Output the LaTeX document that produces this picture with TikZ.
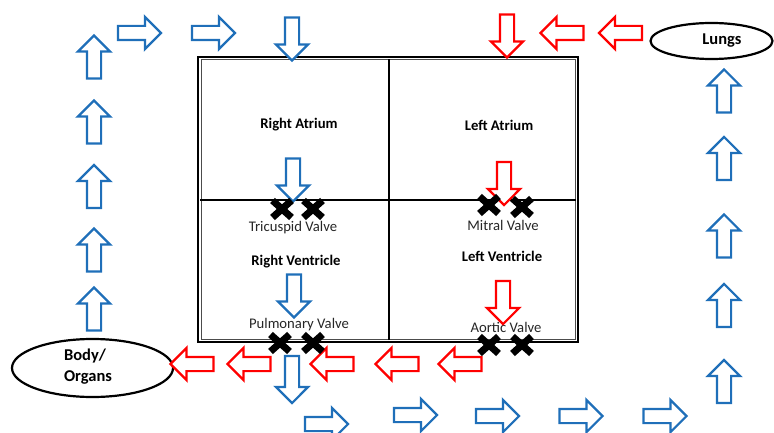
\documentclass[tikz,border=0pt]{standalone}
\usepackage{fontspec}
\setmainfont{Carlito}
\usetikzlibrary{shapes.arrows,shapes.geometric}
\definecolor{flowblue}{HTML}{1F6FB9}
\definecolor{flowred}{HTML}{FF0000}
\tikzset{
  barrow/.style={single arrow, draw=#1, fill=white, line width=2.2pt,
    minimum height=43pt, inner xsep=0pt, inner ysep=6pt,
    single arrow head extend=9pt, single arrow tip angle=90},
  bluearrow/.style={barrow=flowblue},
  redarrow/.style={barrow=flowred},
  chamber/.style={font=\fontsize{14.7}{17}\selectfont\bfseries},
  organtext/.style={font=\fontsize{16.5}{21}\selectfont\bfseries},
  valve/.style={font=\fontsize{14.7}{17}\selectfont, text=black!85},
  organ/.style={ellipse, draw=black, line width=2.2pt, fill=white, inner sep=0pt},
  divider/.style={line width=2.4pt, black},
  xmark/.style={line width=7pt, black}
}
\newcommand{\valvex}[2]{%
  \draw[xmark] (#1-9.5,#2-8.5) -- (#1+9.5,#2+8.5);
  \draw[xmark] (#1-9.5,#2+8.5) -- (#1+9.5,#2-8.5);}
\begin{document}
\begin{tikzpicture}[x=1pt,y=1pt]
\useasboundingbox (0,0) rectangle (774,432);

% heart outline with double border
\draw[line width=1.8pt] (198,90) rectangle (578,375);
\draw[line width=1pt, black!70] (201,93) rectangle (575,372);
\draw[divider] (389,92) -- (389,373);
\draw[divider] (200,232) -- (576,232);

% chamber and valve labels
\node[chamber] (ra) at (299,307) {Right Atrium};
\node[chamber] (la) at (499,307) {Left Atrium};
\node[chamber] (rv) at (296,170) {Right Ventricle};
\node[chamber] (lv) at (502,176) {Left Ventricle};
\node[valve] (tv) at (293,204) {Tricuspid Valve};
\node[valve] (mv) at (503,207) {Mitral Valve};
\node[valve] (pv) at (299,107) {Pulmonary Valve};
\node[valve] (av) at (506,105) {Aortic Valve};

% organs
\node[organ, minimum width=122pt, minimum height=36pt] (lungs) at (711.5,391) {};
\node[organtext] (lungstxt) at (722,391) {Lungs};
\node[organ, minimum width=161pt, minimum height=58pt] (body) at (92.5,64) {};
\node[organtext, align=left] (bodytxt) at (88,65) {Body/\\Organs};

% body to right atrium
\node[bluearrow, rotate=90] (u1) at (94,119.5) {};
\node[bluearrow, rotate=90] (u2) at (94,178.5) {};
\node[bluearrow, rotate=90] (u3) at (94,242) {};
\node[bluearrow, rotate=90] (u4) at (94,306.5) {};
\node[bluearrow, rotate=90] (u5) at (94,371.5) {};
\node[bluearrow] (r1) at (136,399) {};
\node[bluearrow] (r2) at (210,399) {};
\node[bluearrow, rotate=-90] (d1) at (292,396.5) {};

% through the right heart
\node[bluearrow, rotate=-90] (d2) at (293,255.5) {};
\node[bluearrow, rotate=-90] (d3) at (294,139.5) {};
\node[bluearrow, rotate=-90, minimum height=47pt] (d4) at (292,56) {};

% pulmonary circuit to lungs
\node[bluearrow] (b1) at (323,8) {};
\node[bluearrow] (b2) at (412,17) {};
\node[bluearrow] (b3) at (494,16) {};
\node[bluearrow] (b4) at (577.5,16) {};
\node[bluearrow] (b5) at (661.5,16) {};
\node[bluearrow, rotate=90] (v1) at (724,47) {};
\node[bluearrow, rotate=90] (v2) at (724,123) {};
\node[bluearrow, rotate=90] (v3) at (724,192.5) {};
\node[bluearrow, rotate=90] (v4) at (724,270) {};
\node[bluearrow, rotate=90] (v5) at (724,337.5) {};

% lungs to left atrium
\node[redarrow, rotate=180] (l1) at (624,399) {};
\node[redarrow, rotate=180] (l2) at (565.5,399) {};
\node[redarrow, rotate=-90] (l3) at (507,399.5) {};

% through the left heart
\node[redarrow, rotate=-90] (l4) at (504,252) {};
\node[redarrow, rotate=-90] (l5) at (503,133) {};

% aorta to body
\node[redarrow, rotate=180] (a1) at (463.5,68) {};
\node[redarrow, rotate=180] (a2) at (400.5,68) {};
\node[redarrow, rotate=180] (a3) at (335.5,68) {};
\node[redarrow, rotate=180] (a4) at (252.5,68) {};
\node[redarrow, rotate=180] (a5) at (195.5,68) {};

% valve leaflets
\valvex{282}{223}\valvex{313}{223}
\valvex{489}{227}\valvex{522}{225}
\valvex{280}{89}\valvex{313}{89}
\valvex{489}{87}\valvex{522}{87}
\end{tikzpicture}
\end{document}
